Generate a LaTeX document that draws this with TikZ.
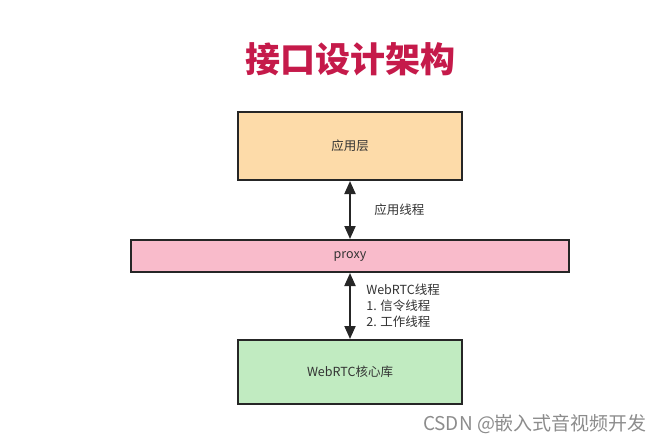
\documentclass[tikz,border=0pt]{standalone}
\usepackage{fontspec}
\setmainfont{Noto Sans CJK SC}
\usetikzlibrary{positioning,arrows.meta}
\definecolor{titlered}{HTML}{C51A4A}
\definecolor{appfill}{HTML}{FDDBA9}
\definecolor{proxyfill}{HTML}{F9BBCB}
\definecolor{corefill}{HTML}{C1EBC1}
\definecolor{inktext}{HTML}{333333}
\tikzstyle{titulo}=[text=titlered, font=\fontsize{35}{40}\selectfont\bfseries]
\tikzstyle{capa}=[draw=black!85, line width=2pt, text=inktext,
  minimum width=224pt, minimum height=68pt, font=\fontsize{12.5}{15}\selectfont]
\tikzstyle{proxybox}=[capa, fill=proxyfill, minimum width=438pt, minimum height=32pt]
\tikzstyle{texto}=[text=inktext, align=left, font=\fontsize{12.5}{16}\selectfont]
\tikzstyle{line}=[draw=black!85, line width=2pt,
  {Triangle[length=13pt,width=11pt]}-{Triangle[length=13pt,width=11pt]}]
\tikzstyle{marca}=[text=black!45, font=\fontsize{19}{21}\selectfont]

\begin{document}
\begin{tikzpicture}[x=1pt,y=-1pt]
  \useasboundingbox (0,0) rectangle (666,444);

  % title
  \node (TITLE) at (350,59) [titulo] {接口设计架构};

  % layers
  \node (APPLAYER) at (350,146) [capa, fill=appfill] {应用层};
  \node (PROXY) [proxybox, below=58pt of APPLAYER] {proxy};
  \node (WEBRTCCORE) [capa, fill=corefill, minimum height=64pt,
    below=66pt of PROXY] {WebRTC核心库};

  % arrows between layers
  \path [line] (APPLAYER.south) -- node [texto, right=20pt] {应用线程} (PROXY.north);
  \path [line] (PROXY.south) -- node [texto, right=12pt]
    {WebRTC线程\\1. 信令线程\\2. 工作线程} (WEBRTCCORE.north);

  % watermark
  \node (WATERMARK) at (535,424) [marca] {CSDN @嵌入式音视频开发};
\end{tikzpicture}
\end{document}
